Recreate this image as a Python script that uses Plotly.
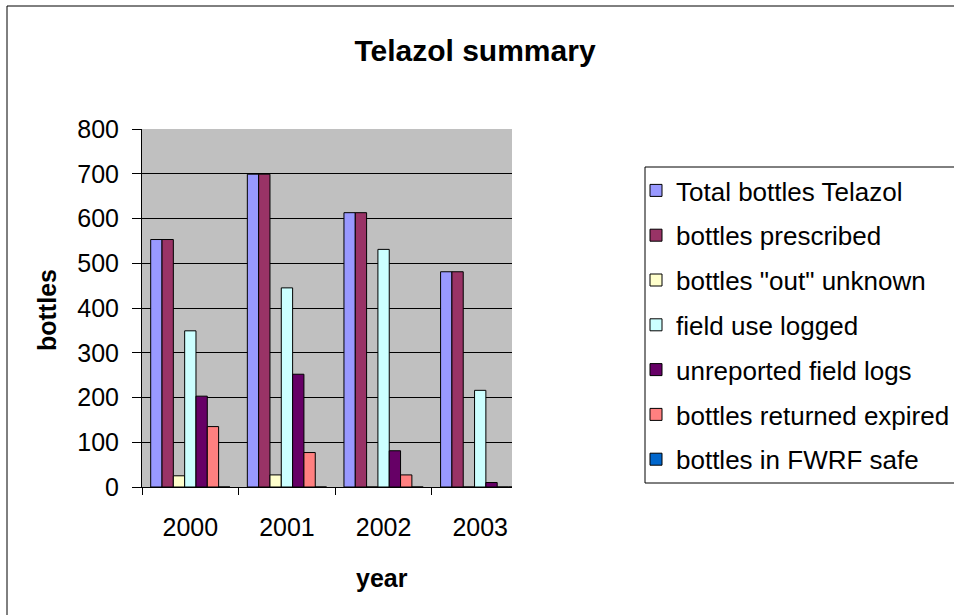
import plotly.graph_objects as go

# ---- data ----
years = ["2000", "2001", "2002", "2003"]
total_bottles = [553, 699, 613, 481]
bottles_prescribed = [553, 699, 613, 481]
bottles_out_unknown = [25, 27, 0, 0]
field_use_logged = [349, 445, 531, 216]
unreported_field_logs = [203, 252, 81, 10]
bottles_returned_expired = [135, 77, 27, 0]
bottles_in_fwrf_safe = [0, 0, 0, 0]

series_names = [
    "Total bottles Telazol",
    "bottles prescribed",
    'bottles "out" unknown',
    "field use logged",
    "unreported field logs",
    "bottles returned expired",
    "bottles in FWRF safe",
]
series_values = [
    total_bottles,
    bottles_prescribed,
    bottles_out_unknown,
    field_use_logged,
    unreported_field_logs,
    bottles_returned_expired,
    bottles_in_fwrf_safe,
]
series_colors = ["#9999FF", "#993366", "#FFFFCC", "#CCFFFF", "#660066", "#FF8080", "#0066CC"]

y_ticks = [0, 100, 200, 300, 400, 500, 600, 700, 800]

W, H = 954, 615
FONT = "Liberation Sans, Arial, sans-serif"

xpos = list(range(len(years)))
boundaries = [i - 0.5 for i in xpos]

fig = go.Figure()
for i, (name, vals, col) in enumerate(zip(series_names, series_values, series_colors)):
    fig.add_trace(go.Bar(
        x=xpos, y=vals, name=name,
        marker=dict(color=col, line=dict(color="black", width=1)),
        legendgroup=f"g{i}",
    ))

# plot area in pixels
px_l, px_r, px_t, px_b = 142, 512, 129, 487
xr = [-0.5, 3.329]

fig.update_layout(
    width=W, height=H,
    margin=dict(l=0, r=0, t=0, b=0, autoexpand=False),
    paper_bgcolor="white",
    plot_bgcolor="#C0C0C0",
    barmode="group",
    bargap=0.18,
    bargroupgap=0,
    font=dict(family=FONT, size=25, color="black"),
    title=dict(
        text="<b>Telazol summary</b>",
        x=475 / W, xanchor="center",
        y=1 - 50 / H, yanchor="middle",
        font=dict(size=30, family=FONT, color="black"),
    ),
    xaxis=dict(
        domain=[px_l / W, px_r / W],
        range=xr,
        tickvals=xpos, ticktext=years,
        ticks="", showgrid=False,
        showline=True, linecolor="black", linewidth=1,
        ticklabelstandoff=18,
        tickfont=dict(size=25),
        zeroline=False,
    ),
    xaxis2=dict(
        overlaying="x", anchor="y", side="bottom",
        range=xr,
        tickvals=boundaries, showticklabels=False,
        ticks="outside", ticklen=7, tickcolor="black", tickwidth=1,
        showgrid=False, showline=False, zeroline=False,
    ),
    yaxis=dict(
        domain=[1 - px_b / H, 1 - px_t / H],
        range=[0, 800],
        tickvals=y_ticks,
        showgrid=True, gridcolor="black", gridwidth=1,
        showline=True, linecolor="black", linewidth=1,
        ticks="outside", ticklen=9, tickcolor="black",
        ticklabelstandoff=8,
        tickfont=dict(size=25),
        zeroline=False,
    ),
    legend=dict(
        x=636 / W, xanchor="left",
        y=1 - 167 / H, yanchor="top",
        bgcolor="rgba(0,0,0,0)", borderwidth=0,
        font=dict(size=26, family=FONT),
        traceorder="grouped",
        tracegroupgap=8,
    ),
    showlegend=True,
)

# invisible trace to activate xaxis2 ticks
fig.add_trace(go.Bar(x=xpos, y=[0] * len(xpos), xaxis="x2", yaxis="y",
                     showlegend=False, hoverinfo="skip",
                     marker=dict(color="rgba(0,0,0,0)", line=dict(width=0))))

# axis titles
fig.add_annotation(text="<b>bottles</b>", x=47 / W, y=1 - 310 / H,
                   xref="paper", yref="paper", textangle=-90, showarrow=False,
                   font=dict(size=25, family=FONT), xanchor="center", yanchor="middle")
fig.add_annotation(text="<b>year</b>", x=382 / W, y=1 - 578 / H,
                   xref="paper", yref="paper", showarrow=False,
                   font=dict(size=25, family=FONT), xanchor="center", yanchor="middle")

# outer chart border
fig.add_shape(type="rect", xref="paper", yref="paper",
              x0=7 / W, x1=1.02, y0=-0.02, y1=1 - 6 / H,
              line=dict(color="black", width=1), fillcolor="rgba(0,0,0,0)", layer="below")
# legend box (extends past the right edge, as in the original)
fig.add_shape(type="rect", xref="paper", yref="paper",
              x0=645 / W, x1=1.02, y0=1 - 483 / H, y1=1 - 167 / H,
              line=dict(color="black", width=1), fillcolor="white", layer="below")

fig.write_html("out.html", post_script="document.body.style.margin='0px';",
               config={"displayModeBar": False})
